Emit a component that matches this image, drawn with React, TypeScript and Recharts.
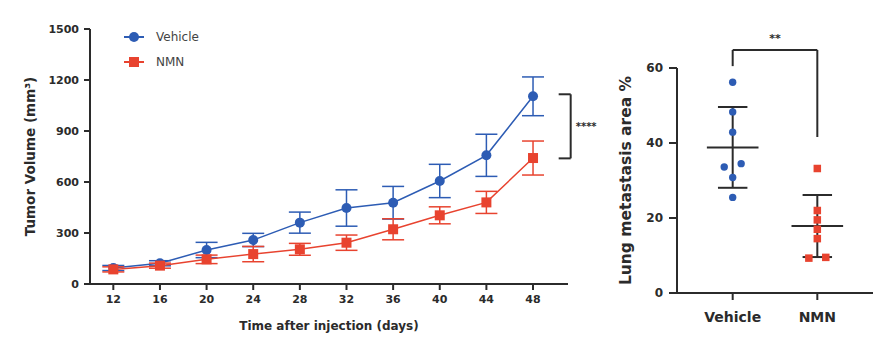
import {
  ErrorBar,
  Legend,
  Line,
  LineChart,
  ReferenceLine,
  Scatter,
  ScatterChart,
  XAxis,
  YAxis,
} from "recharts"

const days = [12, 16, 20, 24, 28, 32, 36, 40, 44, 48]
const vehicleVolume = [94, 122, 200, 259, 361, 447, 478, 606, 757, 1104]
const vehicleSem = [15, 15, 45, 39, 62, 107, 96, 98, 124, 114]
const nmnVolume = [86, 108, 145, 176, 204, 243, 322, 404, 480, 741]
const nmnSem = [15, 15, 25, 45, 35, 45, 62, 50, 65, 100]
const volumeTicks = [0, 300, 600, 900, 1200, 1500]

const groups = ["Vehicle", "NMN"]
const vehicleArea = [56.2, 48.3, 42.9, 33.6, 34.5, 30.8, 25.5]
const vehicleJitter = [0, 0, 0, -0.1, 0.1, 0, 0]
const nmnArea = [33.2, 22, 19.5, 17, 14.5, 9.3, 9.5]
const nmnJitter = [0, 0, 0, 0, 0, -0.1, 0.1]
const areaTicks = [0, 20, 40, 60]

const BLUE = "#2d5cb4"
const RED = "#e8432f"
const INK = "#2b2b2b"
const FONT = "'DejaVu Sans', sans-serif"

const volumeData = days.map((day, i) => ({
  day,
  vehicle: vehicleVolume[i],
  vehicleErr: vehicleSem[i],
  nmn: nmnVolume[i],
  nmnErr: nmnSem[i],
}))

const vehiclePoints = vehicleArea.map((v, i) => ({ x: 1 + vehicleJitter[i], y: v }))
const nmnPoints = nmnArea.map((v, i) => ({ x: 2 + nmnJitter[i], y: v }))

function stats(values: number[]) {
  const mean = values.reduce((a, b) => a + b, 0) / values.length
  const sd = Math.sqrt(values.reduce((a, b) => a + (b - mean) ** 2, 0) / (values.length - 1))
  return { mean, sd }
}

const tickStyle = { fontFamily: FONT, fontWeight: 700, fontSize: 11, fill: INK }

function square(size: number, color: string) {
  return (props: any) => {
    const { cx, cy, key } = props
    if (cx == null || cy == null) return <g key={key} />
    return <rect key={key} x={cx - size / 2} y={cy - size / 2} width={size} height={size} fill={color} />
  }
}

const legendOrder = ["vehicle", "nmn"]

function LegendBox({ payload }: any) {
  const items = [...(payload ?? [])].sort(
    (a: any, b: any) => legendOrder.indexOf(a.dataKey) - legendOrder.indexOf(b.dataKey),
  )
  return (
    <div style={{ fontFamily: FONT, fontSize: 12, color: "#444" }}>
      {items.map((p: any) => (
        <div key={p.value} style={{ display: "flex", alignItems: "center", height: 25 }}>
          <svg width={28} height={14}>
            <line x1={2} y1={7} x2={22} y2={7} stroke={p.color} strokeWidth={2} />
            {p.dataKey === "vehicle" ? (
              <circle cx={12} cy={7} r={5} fill={p.color} />
            ) : (
              <rect x={7} y={2} width={10} height={10} fill={p.color} />
            )}
          </svg>
          <span style={{ marginLeft: 6 }}>{p.value}</span>
        </div>
      ))}
    </div>
  )
}

function MeanSd({ x, values }: { x: number; values: number[] }) {
  const { mean, sd } = stats(values)
  const line = { stroke: INK, strokeWidth: 2, ifOverflow: "visible" as const }
  return [
    <ReferenceLine key="m" {...line} segment={[{ x: x - 0.305, y: mean }, { x: x + 0.305, y: mean }]} />,
    <ReferenceLine key="v" {...line} segment={[{ x, y: mean - sd }, { x, y: mean + sd }]} />,
    <ReferenceLine key="t" {...line} segment={[{ x: x - 0.174, y: mean + sd }, { x: x + 0.174, y: mean + sd }]} />,
    <ReferenceLine key="b" {...line} segment={[{ x: x - 0.174, y: mean - sd }, { x: x + 0.174, y: mean - sd }]} />,
  ]
}

function VolumeChart() {
  const bracket = { stroke: INK, strokeWidth: 2, ifOverflow: "visible" as const }
  return (
    <LineChart width={600} height={338} data={volumeData} margin={{ top: 29, right: 32, bottom: 4, left: 0 }}>
      <XAxis
        dataKey="day"
        type="number"
        domain={[10, 51]}
        ticks={days}
        allowDataOverflow
        height={50}
        stroke={INK}
        strokeWidth={2}
        tickSize={6}
        tickMargin={5}
        tick={tickStyle}
        label={{
          value: "Time after injection (days)",
          position: "insideBottom",
          offset: 4,
          style: { fontFamily: FONT, fontWeight: 700, fontSize: 12, fill: INK },
        }}
      />
      <YAxis
        domain={[0, 1500]}
        ticks={volumeTicks}
        width={90}
        stroke={INK}
        strokeWidth={2}
        tickSize={6}
        tickMargin={5}
        tick={tickStyle}
        label={{
          value: "Tumor Volume (mm³)",
          angle: -90,
          position: "insideLeft",
          offset: 30,
          textAnchor: "middle",
          style: { textAnchor: "middle", fontFamily: FONT, fontWeight: 700, fontSize: 13.5, fill: INK },
        }}
      />
      <Legend
        layout="horizontal"
        verticalAlign="middle"
        align="center"
        wrapperStyle={{ left: 122, top: 24, width: 130 }}
        content={<LegendBox />}
      />
      <ReferenceLine {...bracket} segment={[{ x: 50.2, y: 1116 }, { x: 51.23, y: 1116 }]} />
      <ReferenceLine
        {...bracket}
        segment={[{ x: 51.23, y: 1116 }, { x: 51.23, y: 739 }]}
        label={{ value: "****", position: "right", offset: 5, style: { fontFamily: FONT, fontWeight: 700, fontSize: 10, fill: INK } }}
      />
      <ReferenceLine {...bracket} segment={[{ x: 50.2, y: 739 }, { x: 51.23, y: 739 }]} />
      <Line
        dataKey="vehicle"
        name="Vehicle"
        stroke={BLUE}
        strokeWidth={1.5}
        dot={{ r: 5, fill: BLUE, stroke: BLUE, strokeWidth: 0 }}
        isAnimationActive={false}
      >
        <ErrorBar dataKey="vehicleErr" width={11} stroke={BLUE} strokeWidth={1.5} direction="y" />
      </Line>
      <Line
        dataKey="nmn"
        name="NMN"
        stroke={RED}
        strokeWidth={1.5}
        dot={square(10, RED)}
        isAnimationActive={false}
      >
        <ErrorBar dataKey="nmnErr" width={11} stroke={RED} strokeWidth={1.5} direction="y" />
      </Line>
    </LineChart>
  )
}

function AreaChart() {
  const bracket = { stroke: INK, strokeWidth: 2, ifOverflow: "visible" as const }
  return (
    <ScatterChart width={291} height={338} margin={{ top: 68, right: 18, bottom: 10, left: 0 }}>
      <XAxis
        dataKey="x"
        type="number"
        domain={[0.342, 2.658]}
        ticks={[1, 2]}
        tickFormatter={(v: number) => groups[v - 1]}
        allowDataOverflow
        height={35}
        stroke={INK}
        strokeWidth={2}
        tickSize={7}
        tickMargin={12}
        tick={{ ...tickStyle, fontSize: 14 }}
      />
      <YAxis
        dataKey="y"
        type="number"
        domain={[0, 60]}
        ticks={areaTicks}
        width={77}
        stroke={INK}
        strokeWidth={2}
        tickSize={8}
        tickMargin={6}
        tick={{ ...tickStyle, fontSize: 12 }}
        label={{
          value: "Lung metastasis area %",
          angle: -90,
          position: "insideLeft",
          offset: 25,
          textAnchor: "middle",
          style: { textAnchor: "middle", fontFamily: FONT, fontWeight: 700, fontSize: 15.5, fill: INK },
        }}
      />
      <ReferenceLine {...bracket} segment={[{ x: 1, y: 60.5 }, { x: 1, y: 64.8 }]} />
      <ReferenceLine
        {...bracket}
        segment={[{ x: 1, y: 64.8 }, { x: 2, y: 64.8 }]}
        label={{ value: "**", position: "top", offset: 8, style: { fontFamily: FONT, fontWeight: 700, fontSize: 11, fill: INK } }}
      />
      <ReferenceLine {...bracket} segment={[{ x: 2, y: 64.8 }, { x: 2, y: 41.6 }]} />
      {MeanSd({ x: 1, values: vehicleArea })}
      {MeanSd({ x: 2, values: nmnArea })}
      <Scatter
        name="Vehicle"
        data={vehiclePoints}
        fill={BLUE}
        shape={(p: any) => <circle cx={p.cx} cy={p.cy} r={3.7} fill={BLUE} />}
        isAnimationActive={false}
      />
      <Scatter name="NMN" data={nmnPoints} fill={RED} shape={square(7.5, RED)} isAnimationActive={false} />
    </ScatterChart>
  )
}

export default function App() {
  return (
    <div style={{ position: "absolute", left: 0, top: 0, width: 891, height: 338, background: "#fff", overflow: "hidden" }}>
      <div style={{ position: "absolute", left: 0, top: 0 }}>
        <VolumeChart />
      </div>
      <div style={{ position: "absolute", left: 600, top: 0 }}>
        <AreaChart />
      </div>
    </div>
  )
}
